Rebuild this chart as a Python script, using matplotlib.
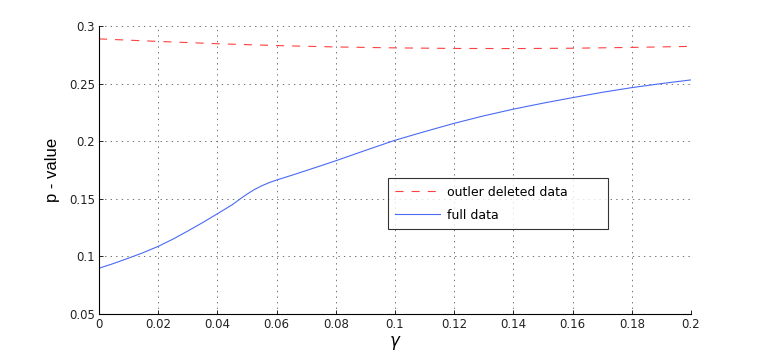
import matplotlib
matplotlib.use('Agg')
import matplotlib.pyplot as plt

# gamma values and p-values
gamma_full = [0.0, 0.005, 0.01, 0.015, 0.02, 0.025, 0.03, 0.035, 0.04, 0.045,
              0.0475, 0.05, 0.0525, 0.055, 0.0575, 0.06, 0.065, 0.07, 0.075, 0.08,
              0.09, 0.10, 0.11, 0.12, 0.13, 0.14, 0.15, 0.16, 0.17, 0.18, 0.19, 0.20]
p_full = [0.0897, 0.0939, 0.0985, 0.1033, 0.1087, 0.1150, 0.1220, 0.1293, 0.1370,
          0.1448, 0.1495, 0.1540, 0.1580, 0.1613, 0.1640, 0.1663, 0.1703, 0.1745,
          0.1787, 0.1830, 0.1920, 0.2008, 0.2083, 0.2155, 0.2220, 0.2278, 0.2330,
          0.2378, 0.2424, 0.2465, 0.2500, 0.2532]

gamma_del = [0.0, 0.02, 0.04, 0.06, 0.08, 0.10, 0.12, 0.14, 0.16, 0.18, 0.20]
p_del = [0.2888, 0.2866, 0.2846, 0.2830, 0.2818, 0.2810, 0.2805, 0.2804, 0.2807,
         0.2814, 0.2823]

x_ticks = [0, 0.02, 0.04, 0.06, 0.08, 0.1, 0.12, 0.14, 0.16, 0.18, 0.2]
x_labels = ['0', '0.02', '0.04', '0.06', '0.08', '0.1', '0.12', '0.14', '0.16', '0.18', '0.2']
y_ticks = [0.05, 0.1, 0.15, 0.2, 0.25, 0.3]
y_labels = ['0.05', '0.1', '0.15', '0.2', '0.25', '0.3']

plt.rcParams['font.family'] = ['DejaVu Sans']
plt.rcParams['lines.scale_dashes'] = False

fig = plt.figure(figsize=(7.63, 3.54), dpi=100)
ax = fig.add_axes([0.1297, 0.113, 0.7759, 0.8136])

ax.plot(gamma_del, p_del, color='#ff4040', linewidth=0.8, dashes=(5.8, 5.8),
        label='outler deleted data')
ax.plot(gamma_full, p_full, color='#4a6af5', linewidth=0.8, label='full data')

ax.set_xlim(0, 0.2)
ax.set_ylim(0.05, 0.3)
ax.set_xticks(x_ticks)
ax.set_xticklabels(x_labels)
ax.set_yticks(y_ticks)
ax.set_yticklabels(y_labels)

ax.grid(True, color='0.45', linestyle=(0, (1, 3)), linewidth=0.7)
ax.set_axisbelow(True)
ax.spines['top'].set_visible(False)
ax.spines['right'].set_visible(False)
ax.spines['left'].set_linewidth(0.8)
ax.spines['bottom'].set_linewidth(0.8)
ax.tick_params(direction='in', length=3, width=0.7, labelsize=8.5, pad=3,
               colors='#222222')

ax.set_ylabel('p - value', fontsize=12, family='Liberation Sans', labelpad=6)
ax.set_xlabel(r'$\gamma$', fontsize=12, labelpad=2)

leg = ax.legend(loc='lower left', bbox_to_anchor=(0.488, 0.295, 0.372, 0.163),
                mode='expand', prop={'size': 9}, frameon=True, fancybox=False,
                handlelength=3.6, handletextpad=0.5, borderaxespad=0,
                borderpad=0.6, labelspacing=0.8)
leg.get_frame().set_edgecolor('black')
leg.get_frame().set_linewidth(0.8)

fig.savefig('out.png', dpi=100)
